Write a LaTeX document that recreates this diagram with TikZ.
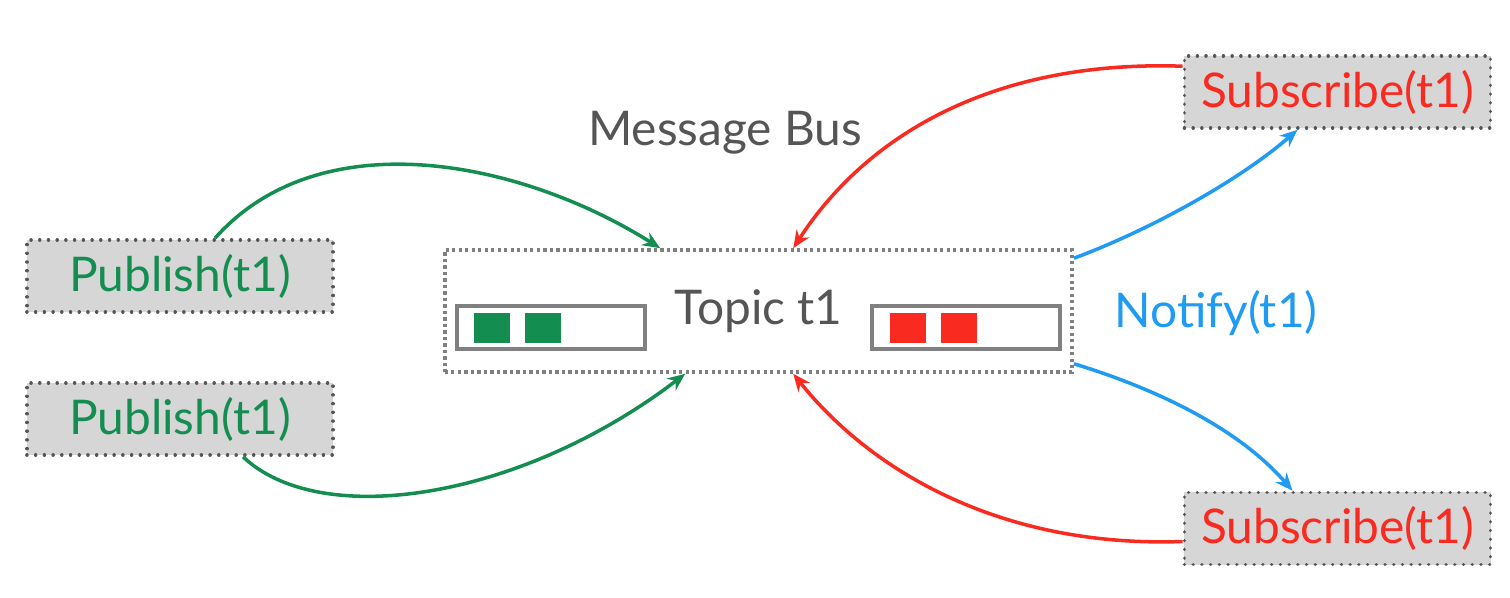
\documentclass[tikz,border=0pt]{standalone}
\usepackage{fontspec}
\setmainfont{Lato}
\usepackage{xcolor}
\usepackage{tikz}
\usetikzlibrary{arrows.meta}
\definecolor{pubG}{HTML}{138E50}
\definecolor{subR}{HTML}{F92A1F}
\definecolor{notB}{HTML}{1F9BF3}
\definecolor{boxBg}{HTML}{D6D6D6}
\definecolor{txtG}{HTML}{555555}
\definecolor{edgeG}{HTML}{808080}

\tikzset{
  clientbox/.style={draw=txtG, fill=boxBg, line width=1pt, line cap=round,
    dash pattern=on 0.01pt off 2.47pt, inner sep=0pt,
    minimum width=3.06cm, minimum height=0.72cm},
  queuebox/.style={draw=edgeG, line width=0.9pt, fill=white, inner sep=0pt,
    minimum width=1.88cm, minimum height=0.43cm},
  msgcell/.style={inner sep=0pt, minimum width=0.36cm, minimum height=0.30cm},
  flow/.style={line width=1pt, -{Stealth[length=5pt, width=4.2pt]}}
}

\begin{document}
\begin{tikzpicture}[font=\fontsize{13.6}{16}\selectfont, x=0.01cm, y=-0.01cm]
  \useasboundingbox (0,0) rectangle (1510,598);

  % bus with its topic
  \node[draw=edgeG, line width=1pt, dash pattern=on 0.9pt off 0.95pt,
    minimum width=6.27cm, minimum height=1.22cm, inner sep=0pt,
    text=txtG] (topic) at (758.5,311) {Topic t1};
  \node[text=txtG] (bus) at (725,133) {Message Bus};

  \node[queuebox] (qin) at (551,327.5) {};
  \node[queuebox] (qout) at (966,327.5) {};
  \foreach \x/\c/\n in {
    492/pubG/in1,
    543/pubG/in2,
    908/subR/out1,
    959/subR/out2}{
    \node[msgcell, fill=\c] (\n) at (\x,328) {};
  }

  % clients
  \node[clientbox, text=pubG] (pub1) at (180,276) {Publish(t1)};
  \node[clientbox, text=pubG] (pub2) at (180,419) {Publish(t1)};
  \node[clientbox, text=subR] (sub1) at (1337.5,92) {Subscribe(t1)};
  \node[clientbox, text=subR] (sub2) at (1337.5,528.5) {Subscribe(t1)};
  \node[text=notB] (notify) at (1216,313) {Notify(t1)};

  \draw[flow, pubG] ([xshift=0.35cm]pub1.north)
    .. controls (320,120) and (520,160) .. ([xshift=2.17cm]topic.north west);
  \draw[flow, pubG] ([xshift=0.63cm]pub2.south)
    .. controls (320,530) and (520,500) .. ([xshift=2.42cm]topic.south west);
  \draw[flow, subR] ([yshift=-0.12cm]sub1.north west)
    .. controls (1000,60) and (870,130) .. ([xshift=3.50cm]topic.north west);
  \draw[flow, subR] ([yshift=-0.13cm]sub2.west)
    .. controls (1000,548) and (870,470) .. ([xshift=3.50cm]topic.south west);
  \draw[flow, notB] ([yshift=-0.1cm]topic.north east)
    .. controls (1150,230) and (1240,180) .. ([xshift=-0.40cm]sub1.south);
  \draw[flow, notB] ([yshift=0.1cm]topic.south east)
    .. controls (1160,390) and (1240,430) .. ([xshift=-0.45cm]sub2.north);
\end{tikzpicture}
\end{document}
